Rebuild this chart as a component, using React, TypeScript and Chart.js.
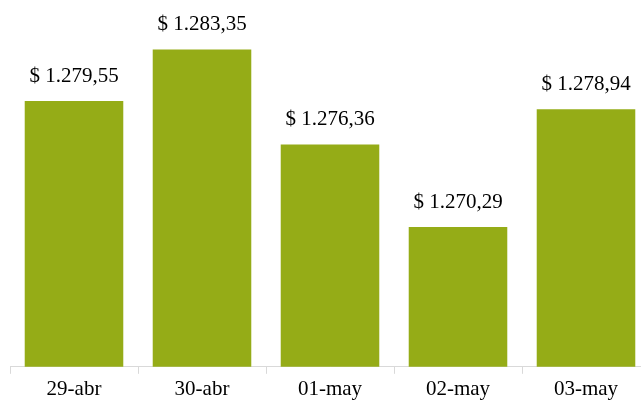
import React, { useEffect, useRef } from "react";
import { Chart, registerables } from "chart.js";

Chart.register(...registerables);

const categories = ["29-abr", "30-abr", "01-may", "02-may", "03-may"];
const values = [1279.55, 1283.35, 1276.36, 1270.29, 1278.94];
const yMin = 1260;
const yMax = 1285;

function fmt(v: number): string {
  const [i, d] = v.toFixed(2).split(".");
  const withDots = i.replace(/\B(?=(\d{3})+(?!\d))/g, ".");
  return "$ " + withDots + "," + d;
}

const valueLabels = {
  id: "valueLabels",
  afterDatasetsDraw(chart: any) {
    const ctx = chart.ctx;
    const meta = chart.getDatasetMeta(0);
    ctx.save();
    ctx.font = "21px 'Liberation Serif'";
    ctx.fillStyle = "#000";
    ctx.textAlign = "center";
    ctx.textBaseline = "alphabetic";
    meta.data.forEach((el: any, i: number) => {
      ctx.fillText(fmt(values[i]), el.x, el.y - 19);
    });
    ctx.restore();
  },
};

export default function App() {
  const ref = useRef<HTMLCanvasElement>(null);
  useEffect(() => {
    if (!ref.current) return;
    const chart = new Chart(ref.current, {
      type: "bar",
      data: {
        labels: categories,
        datasets: [
          {
            data: values,
            backgroundColor: "#95AC17",
            barPercentage: 0.77,
            categoryPercentage: 1,
          },
        ],
      },
      options: {
        animation: false,
        responsive: false,
        maintainAspectRatio: false,
        layout: { padding: { top: 27, left: 10, right: 10, bottom: 0 } },
        plugins: { legend: { display: false }, tooltip: { enabled: false } },
        scales: {
          y: { display: false, min: yMin, max: yMax },
          x: {
            grid: {
              display: true,
              drawOnChartArea: false,
              drawTicks: true,
              tickLength: 7,
              color: "#d9d9d9",
              offset: true,
            },
            border: { display: true, color: "#d9d9d9" },
            ticks: {
              color: "#000",
              font: { family: "'Liberation Serif'", size: 21 },
              padding: 3,
              maxRotation: 0,
            },
          },
        },
      },
      plugins: [valueLabels],
    });
    return () => chart.destroy();
  }, []);
  return (
    <div style={{ position: "fixed", left: 0, top: 0, width: 660, height: 405 }}>
      <canvas ref={ref} width={660} height={405} style={{ width: 660, height: 405 }} />
    </div>
  );
}
